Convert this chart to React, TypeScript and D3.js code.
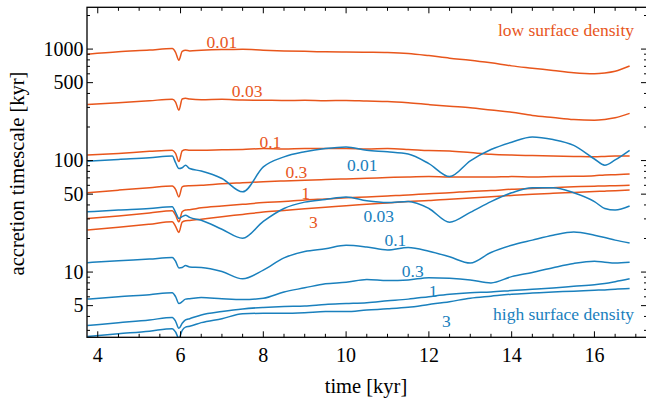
import React from "react";
import * as d3 from "d3";

// time grid [kyr], shared by every curve
const TIME = [3.75, 4.5, 5.25, 5.8, 5.88, 5.96, 6.04, 6.12, 6.22, 6.5, 7, 7.5, 8, 8.5, 9, 9.5, 10, 10.5, 11, 11.5, 12, 12.5, 13, 13.5, 14, 14.5, 15, 15.5, 16, 16.25, 16.5, 16.85];

// low surface density (orange)
const LOW_001 = [900, 945, 980, 1011, 936, 795, 954, 976, 963, 976, 990, 994, 976, 963, 954, 945, 940, 936, 931, 914, 874, 829, 795, 753, 707, 674, 643, 613, 601, 611, 633, 705];
const LOW_003 = [318, 330, 344, 355, 335, 283, 357, 362, 357, 351, 355, 349, 348, 346, 347, 344, 346, 342, 339, 330, 318, 307, 298, 284, 271, 254, 243, 233, 230, 234, 242, 265];
const LOW_01 = [112, 116, 121, 124, 116, 98, 122, 125, 124, 124, 125, 126, 128, 127, 128, 128, 128, 127, 128, 126, 123, 122, 118, 114, 112, 111, 110, 109, 108, 109, 110, 110];
const LOW_03 = [51.5, 54.3, 57.1, 59.1, 55.2, 47.2, 58.1, 59.1, 59.5, 60, 61.9, 63.3, 64.7, 65.7, 66.6, 67.6, 68.5, 69.4, 70.4, 71.3, 71.8, 71.3, 71.3, 71.3, 71.8, 71.3, 71.8, 72.3, 73.2, 74.2, 74.7, 75.6];
const LOW_1 = [30.3, 31.9, 33.9, 35.5, 32.4, 28.2, 34.8, 36, 36.3, 37.7, 39.1, 40.5, 42, 43, 44.4, 45.3, 46.3, 47.2, 48.2, 49.1, 50.5, 51.5, 52.9, 53.8, 55.3, 56.2, 57.2, 58.1, 59, 59.3, 59.5, 60];
const LOW_3 = [23.8, 25.2, 26.9, 28.3, 25.7, 22.7, 28.1, 28.8, 29, 29.8, 31.4, 32.9, 34.5, 35.7, 37, 38.1, 39.4, 40.5, 41.7, 42.9, 43.8, 45.1, 46.2, 47.4, 48.6, 49.8, 50.8, 51.8, 52.7, 53.2, 53.7, 54.4];

// high surface density (blue)
const HIGH_001 = [98.6, 102.4, 106.1, 109.8, 95.7, 84.9, 86.3, 91, 84.9, 80.7, 69.1, 52.4, 87.8, 108, 120, 128.4, 132.7, 123.7, 120, 114.4, 93.8, 71.8, 99.5, 125.6, 146.2, 162.7, 154.3, 136.8, 103.3, 91, 101.4, 123.7];
const HIGH_003 = [34.7, 36, 37.2, 38.5, 34.3, 30.3, 31.4, 32.4, 30.9, 29.2, 24.2, 20.1, 28.5, 37.2, 42.4, 44.8, 47.2, 43.6, 42, 42.9, 37.2, 28, 34.3, 42.9, 51.4, 57.2, 57.2, 51.5, 42.9, 37.2, 36, 39.1];
const HIGH_01 = [12.15, 12.65, 13.1, 13.5, 12.5, 10.9, 11, 11.45, 11.1, 11, 10.1, 8.7, 10.4, 13.4, 15.3, 16.2, 17.4, 16.8, 15.8, 16.6, 15.4, 13.7, 12.05, 15, 17.4, 19.35, 21.4, 22.9, 21.4, 20.4, 19.35, 18.2];
const HIGH_03 = [5.72, 6.02, 6.27, 6.52, 6.02, 5.22, 5.42, 5.72, 5.77, 5.92, 5.77, 5.67, 5.82, 6.63, 7.22, 7.86, 8.1, 8.6, 8.4, 8.5, 8.9, 8.8, 8.5, 8, 9.1, 9.93, 10.95, 11.95, 12.5, 12.25, 12.05, 12.25];
const HIGH_1 = [3.31, 3.51, 3.72, 3.92, 3.62, 3.13, 3.47, 3.72, 3.82, 4.12, 4.42, 4.67, 4.82, 4.92, 4.97, 5.12, 5.22, 5.32, 5.52, 5.72, 6.02, 6.32, 6.52, 6.63, 6.82, 7.01, 7.21, 7.46, 7.7, 7.9, 8.2, 8.7];
const HIGH_3 = [2.65, 2.8, 2.95, 3.11, 2.9, 2.55, 3.0, 3.21, 3.26, 3.52, 3.82, 4.22, 4.27, 4.27, 4.32, 4.42, 4.42, 4.57, 4.68, 4.83, 5.12, 5.43, 5.83, 6.08, 6.33, 6.48, 6.63, 6.73, 6.87, 6.92, 7.02, 7.12];

// curve labels and where they sit (time, timescale)
const LABELS = ["0.01", "0.03", "0.1", "0.3", "1", "3"];
const LOW_LABEL_T = [7.0, 7.61, 8.17, 8.8, 9.02, 9.21];
const LOW_LABEL_V = [1020, 375, 129, 70, 45, 24.8];
const HIGH_LABEL_T = [10.39, 10.79, 11.19, 11.61, 12.1, 12.42];
const HIGH_LABEL_V = [81.3, 28.4, 17.3, 9.1, 6.03, 3.21];

const X_MAJOR = [4, 6, 8, 10, 12, 14, 16];
const Y_MAJOR = [5, 10, 50, 100, 500, 1000];

const ORANGE = "#e8561c";
const BLUE = "#1a80bd";
const FONT = "'Liberation Serif', 'Times New Roman', serif";

export default function App() {
  const W = 646, H = 403;
  const L = 87, R = 647, T = 7.3, B = 337.3;

  const x = d3.scaleLinear().domain([3.74, 17.27]).range([L, R]);
  const y = d3.scaleLog().domain([2.6, 2370]).range([B, T]);

  const line = d3.line<number>()
    .x((_, i) => x(TIME[i]))
    .y(d => y(d))
    .curve(d3.curveMonotoneX);

  const low = [LOW_001, LOW_003, LOW_01, LOW_03, LOW_1, LOW_3];
  const high = [HIGH_001, HIGH_003, HIGH_01, HIGH_03, HIGH_1, HIGH_3];

  const xMinor = d3.range(4, 17.01, 0.5).filter(t => !X_MAJOR.includes(t));
  const yMinor = y.ticks().filter(v => !Y_MAJOR.some(m => Math.abs(m - v) < 1e-9));

  return (
    <svg width={W} height={H} style={{ position: "absolute", left: 0, top: 0 }} fontFamily={FONT}>
      <defs>
        <clipPath id="plot">
          <rect x={L} y={T} width={R - L} height={B - T} />
        </clipPath>
      </defs>
      <rect width={W} height={H} fill="white" />

      <g clipPath="url(#plot)" fill="none" strokeWidth={1.5} strokeLinejoin="round">
        {low.map((s, i) => <path key={"l" + i} d={line(s) || ""} stroke={ORANGE} />)}
        {high.map((s, i) => <path key={"h" + i} d={line(s) || ""} stroke={BLUE} />)}
      </g>

      {/* frame */}
      <rect x={L} y={T} width={R - L} height={B - T} fill="none" stroke="black" strokeWidth={1.3} />

      {/* ticks on all four sides, pointing inward */}
      <g stroke="black" strokeWidth={1}>
        {X_MAJOR.map(t => (
          <g key={"xm" + t}>
            <line x1={x(t)} x2={x(t)} y1={B} y2={B - 6} />
            <line x1={x(t)} x2={x(t)} y1={T} y2={T + 6} />
          </g>
        ))}
        {xMinor.map(t => (
          <g key={"xn" + t}>
            <line x1={x(t)} x2={x(t)} y1={B} y2={B - 3.5} />
            <line x1={x(t)} x2={x(t)} y1={T} y2={T + 3.5} />
          </g>
        ))}
        {Y_MAJOR.map(v => (
          <g key={"ym" + v}>
            <line x1={L} x2={L + 6} y1={y(v)} y2={y(v)} />
            <line x1={R} x2={R - 6} y1={y(v)} y2={y(v)} />
          </g>
        ))}
        {yMinor.map(v => (
          <g key={"yn" + v}>
            <line x1={L} x2={L + 3} y1={y(v)} y2={y(v)} />
            <line x1={R} x2={R - 3} y1={y(v)} y2={y(v)} />
          </g>
        ))}
      </g>

      {/* tick labels */}
      <g fontSize={20} fill="black">
        {X_MAJOR.map(t => (
          <text key={"xl" + t} x={x(t)} y={362} textAnchor="middle">{t}</text>
        ))}
        {Y_MAJOR.map(v => (
          <text key={"yl" + v} x={83.5} y={y(v)} dy="0.34em" textAnchor="end">{v}</text>
        ))}
      </g>

      {/* axis titles */}
      <text x={366} y={393} fontSize={20.5} textAnchor="middle">time [kyr]</text>
      <text transform="translate(24,173.5) rotate(-90)" fontSize={20.5} textAnchor="middle">accretion timescale [kyr]</text>

      {/* curve labels */}
      <g fontSize={17.5} textAnchor="middle">
        {LABELS.map((s, i) => (
          <text key={"lt" + i} x={x(LOW_LABEL_T[i])} y={y(LOW_LABEL_V[i])} fill={ORANGE}>{s}</text>
        ))}
        {LABELS.map((s, i) => (
          <text key={"ht" + i} x={x(HIGH_LABEL_T[i])} y={y(HIGH_LABEL_V[i])} fill={BLUE}>{s}</text>
        ))}
      </g>
      <text x={634} y={36} fontSize={17.5} textAnchor="end" fill={ORANGE}>low surface density</text>
      <text x={634} y={320} fontSize={17.5} textAnchor="end" fill={BLUE}>high surface density</text>
    </svg>
  );
}
